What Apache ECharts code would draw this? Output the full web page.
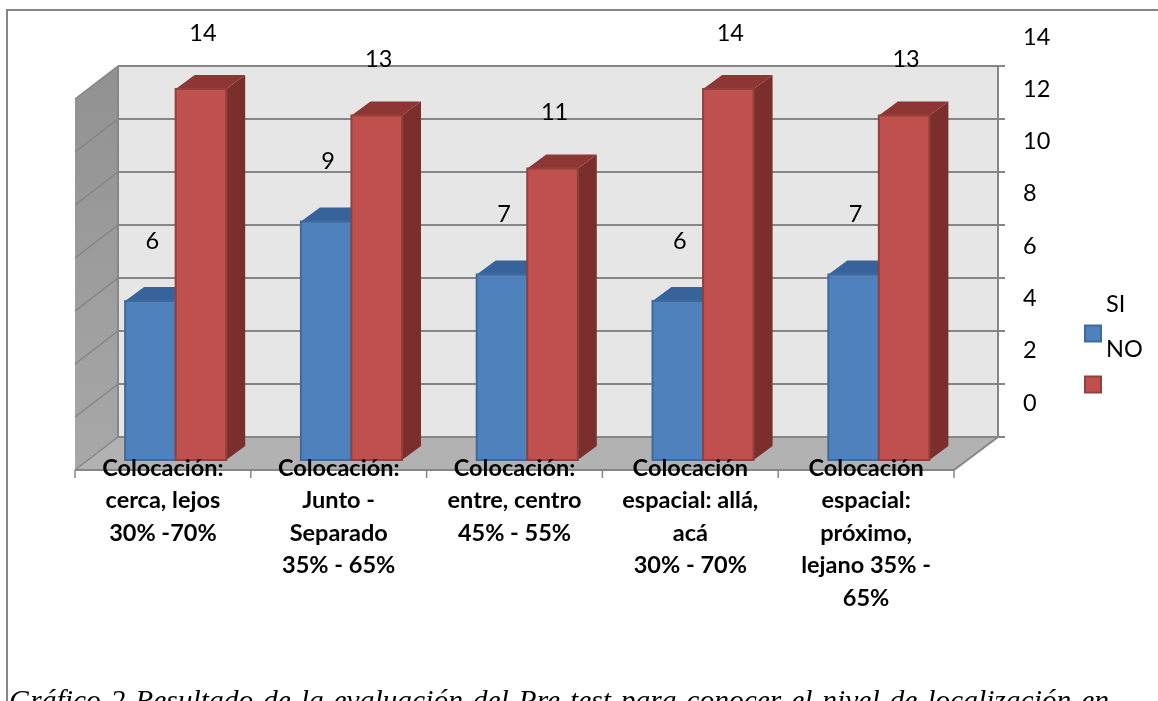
<!DOCTYPE html>
<html><head><meta charset="utf-8">
<style>html,body{margin:0;padding:0;background:#fff;overflow:hidden}#c{width:1158px;height:701px}</style>
<script src="https://cdn.jsdelivr.net/npm/echarts@6/dist/echarts.min.js"></script>
</head><body><div id="c"></div>
<script>
const categories = ["Colocación:\ncerca, lejos\n30% -70%","Colocación:\nJunto -\nSeparado\n35% - 65%","Colocación:\nentre, centro\n45% - 55%","Colocación\nespacial: allá,\nacá\n30% - 70%","Colocación\nespacial:\npróximo,\nlejano 35% -\n65%"];
const siValues = [6,9,7,6,7];
const noValues = [14,13,11,14,13];
const gridTicks = [0,2,4,6,8,10,12,14];
const caption = "Gráfico 2 Resultado de la evaluación del Pre-test para conocer el nivel de localización en";

const FONT = 'Lato';
const FS = 23.5;
const GRAY = '#868686';
const depth = {x:19, y:-14};
const wall = {dx:43, front:10, back:-23, tick:7};

function polygon(points, fill, stroke, lw){
  return {type:'polygon', shape:{points}, style:{fill, stroke:stroke||null, lineWidth:lw||0}};
}
function wallRender(params, api){
  const y0 = api.coord([0,0]), yT = api.coord([0,14]);
  const s = api.size([1,0])[0];
  const L = y0[0]-s/2, R = L+s*5;
  const c0 = y0[1], cT = yT[1];
  const bL = L+wall.dx, bR = R+wall.dx+1;
  const children = [
    polygon([[bL,cT+wall.back],[bR,cT+wall.back],[bR,c0+wall.back],[bL,c0+wall.back]],'#e6e6e6'),
    {type:'polygon',shape:{points:[[bL,cT+wall.back],[bL,c0+wall.back],[L,c0+wall.front],[L,cT+wall.front]]},
      style:{fill:new echarts.graphic.LinearGradient(0,0,0,1,[{offset:0,color:'#919191'},{offset:1,color:'#a8a8a8'}])}},
    polygon([[L,c0+wall.front],[bL,c0+wall.back],[bR,c0+wall.back],[R,c0+wall.front]],'#b2b2b2'),
  ];
  const ln = (a,b,col,lw)=>({type:'line',shape:{x1:a[0],y1:a[1],x2:b[0],y2:b[1]},style:{stroke:col||GRAY,lineWidth:lw||2}});
  gridTicks.forEach(v=>{
    const c = api.coord([0,v])[1];
    children.push(ln([L,c+wall.front],[bL,c+wall.back],'#848484',1.5));
    children.push(ln([bL,c+wall.back],[bR+wall.tick,c+wall.back]));
  });
  children.push(ln([bL,cT+wall.back],[bL,c0+wall.back]));
  children.push(ln([bR,cT+wall.back],[bR,c0+wall.back]));
  children.push(ln([bR,c0+wall.back],[R,c0+wall.front]));
  children.push(ln([L,c0+wall.front],[R,c0+wall.front]));
  for(let i=0;i<=categories.length;i++){
    const x=L+i*s;
    children.push(ln([x,c0+wall.front],[x,c0+wall.front+8],GRAY,1.5));
  }
  return {type:'group',children};
}
function barRender(side, colors, labelUp){
  return function(params, api){
    const p = api.coord([api.value(0), api.value(1)]);
    const b = api.coord([api.value(0), 0]);
    const s = api.size([1,0])[0];
    const w = s*0.2875, mid = p[0]+s*0.0725;
    const x0 = side<0 ? mid-w : mid, x1 = x0+w;
    const y = p[1], base = b[1];
    const dx = depth.x, dy = depth.y;
    return {type:'group',children:[
      polygon([[x1,y],[x1+dx,y+dy],[x1+dx,base+dy],[x1,base]],colors.side),
      polygon([[x0,y],[x0+dx,y+dy],[x1+dx,y+dy],[x1,y]],colors.top),
      {type:'rect',shape:{x:x0,y:y,width:w,height:base-y},style:{fill:colors.front,stroke:colors.border,lineWidth:2}},
      {type:'text',z2:50,style:{text:String(api.value(1)),x:(x0+x1)/2+2,y:y-labelUp,align:'center',verticalAlign:'middle',font:FS+'px '+FONT,fill:'#000'}}
    ]};
  };
}
const blue = {front:'#4f81bd',border:'#3e6b9f',top:'#38639a',side:'#2f5687'};
const red  = {front:'#c0504d',border:'#93403d',top:'#8e3634',side:'#7b2f2d'};

const chart = echarts.init(document.getElementById('c'),null,{renderer:'canvas'});
chart.setOption({
  animation:false,
  backgroundColor:'#fff',
  title:{text:caption.split(' ').join('\u2004'),left:9,top:687,padding:0,
    textStyle:{fontFamily:'Liberation Serif',fontStyle:'italic',fontWeight:'normal',fontSize:29.5,color:'#000'}},
  legend:[
    {data:[{name:'SI',icon:'rect'}],left:1084,top:290,orient:'vertical',padding:0,itemWidth:16,itemHeight:16,itemGap:6,selectedMode:false,
     formatter:n=>n+'\n \n ',
     textStyle:{fontFamily:FONT,fontSize:FS,color:'#000',lineHeight:29}},
    {data:[{name:'NO',icon:'rect'}],left:1084,top:332,orient:'vertical',padding:0,itemWidth:16,itemHeight:16,itemGap:6,selectedMode:false,
     formatter:n=>n+'\n \n ',
     textStyle:{fontFamily:FONT,fontSize:FS,color:'#000',lineHeight:35}}
  ],
  graphic:[{type:'rect',z:-1,shape:{x:7,y:10,width:1400,height:1000},style:{fill:'none',stroke:GRAY,lineWidth:2}}],
  grid:[
    {left:75,width:879,top:89,height:371},
    {left:1015,width:10,top:37,height:366}
  ],
  xAxis:[
    {type:'category',data:categories,gridIndex:0,z:10,
     axisLine:{show:false},
     axisTick:{show:false},
     axisLabel:{interval:0,margin:-8,verticalAlign:'top',fontFamily:FONT,fontWeight:'bold',fontSize:FS,color:'#000',lineHeight:32.5}},
    {type:'value',gridIndex:1,show:false}
  ],
  yAxis:[
    {type:'value',gridIndex:0,min:0,max:14,interval:2,show:false},
    {type:'value',gridIndex:1,min:0,max:14,interval:2,position:'left',
     axisLine:{show:false},axisTick:{show:false},splitLine:{show:false},
     axisLabel:{show:true,inside:true,margin:8,fontFamily:FONT,fontSize:FS,color:'#000'}}
  ],
  series:[
    {type:'custom',name:'walls',silent:true,z:1,data:[[0,0]],renderItem:wallRender,legendHoverLink:false},
    {type:'custom',name:'SI',z:2,data:siValues.map((v,i)=>[i,v]),encode:{x:0,y:1},renderItem:barRender(-1,blue,60),
     itemStyle:{color:blue.front,borderColor:blue.border,borderWidth:1.5}},
    {type:'custom',name:'NO',z:3,data:noValues.map((v,i)=>[i,v]),encode:{x:0,y:1},renderItem:barRender(1,red,56),
     itemStyle:{color:red.front,borderColor:red.border,borderWidth:1.5}}
  ]
});
</script></body></html>
